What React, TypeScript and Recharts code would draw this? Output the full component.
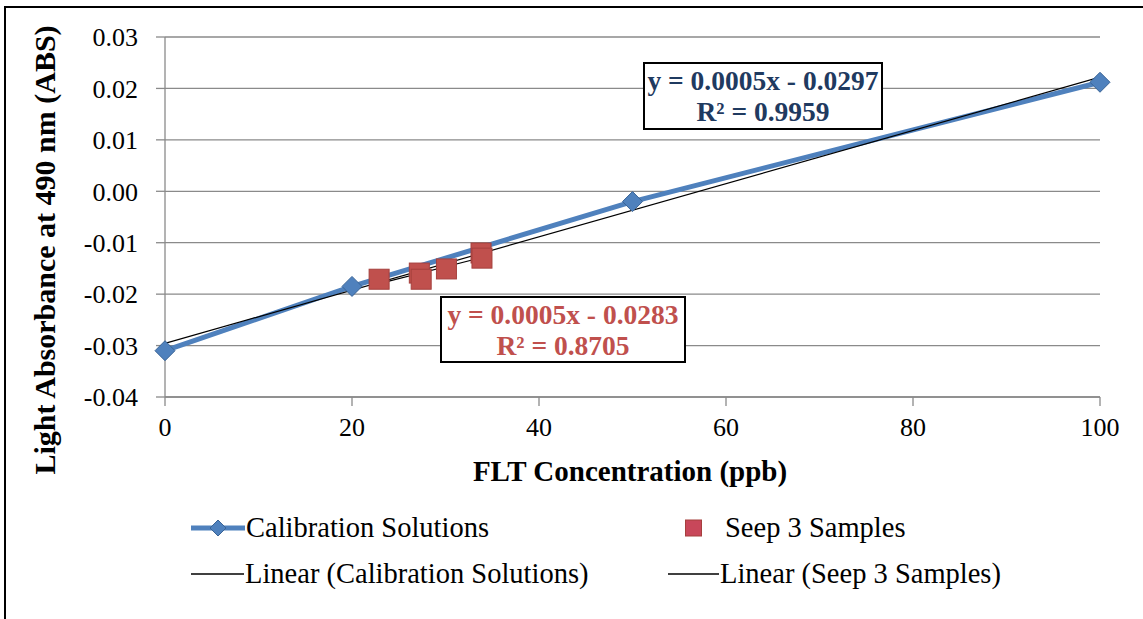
import { ComposedChart, Line, Scatter, XAxis, YAxis, CartesianGrid } from 'recharts';

// calibration standards (ppb vs ABS)
const calibX = [0, 20, 50, 100];
const calibY = [-0.031, -0.0185, -0.002, 0.0212];

// seep 3 samples
const seepX = [22.9, 27.2, 27.4, 30.1, 33.8, 33.9];
const seepY = [-0.0171, -0.0159, -0.0171, -0.0151, -0.012, -0.013];

const xTicks = [0, 20, 40, 60, 80, 100];
const yTicks = [-0.04, -0.03, -0.02, -0.01, 0, 0.01, 0.02, 0.03];

const calibEq = ['y = 0.0005x - 0.0297', 'R² = 0.9959'];
const seepEq = ['y = 0.0005x - 0.0283', 'R² = 0.8705'];

const BLUE = '#4F81BD';
const RED = '#C0504D';
const FONT = '"Liberation Serif", serif';

// least squares fit, same as excel's linear trendline
function linFit(xs: number[], ys: number[]) {
  const n = xs.length;
  const mx = xs.reduce((a, b) => a + b, 0) / n;
  const my = ys.reduce((a, b) => a + b, 0) / n;
  let sxy = 0, sxx = 0;
  xs.forEach((x, i) => {
    sxy += (x - mx) * (ys[i] - my);
    sxx += (x - mx) * (x - mx);
  });
  const m = sxy / sxx;
  const b = my - m * mx;
  const x0 = Math.min(...xs), x1 = Math.max(...xs);
  return [{ x: x0, y: m * x0 + b }, { x: x1, y: m * x1 + b }];
}

const calibData = calibX.map((x, i) => ({ x, y: calibY[i] }));
const seepData = seepX.map((x, i) => ({ x, y: seepY[i] }));
const calibTrend = linFit(calibX, calibY);
const seepTrend = linFit(seepX, seepY);

const Diamond = (props: any) => {
  const { cx, cy } = props;
  if (cx == null || cy == null) return null;
  const r = 10;
  return (
    <path
      d={`M${cx},${cy - r} L${cx + r},${cy} L${cx},${cy + r} L${cx - r},${cy} Z`}
      fill={BLUE}
      stroke="#3A6496"
      strokeWidth={1}
    />
  );
};

const Square = (props: any) => {
  const { cx, cy } = props;
  if (cx == null || cy == null) return null;
  const s = 10;
  return <rect x={cx - s} y={cy - s} width={s * 2} height={s * 2} fill={RED} stroke="#A5403D" strokeWidth={1} />;
};

const EqBox = ({ lines, color, left, top, width, height }: any) => (
  <div
    style={{
      position: 'absolute', left, top, width, height, boxSizing: 'border-box',
      border: '2px solid #000', background: '#fff', color, fontFamily: FONT,
      fontWeight: 'bold', fontSize: 27.5, lineHeight: '31px', textAlign: 'center',
      paddingTop: 1, whiteSpace: 'nowrap',
    }}
  >
    {lines.map((l: string) => <div key={l}>{l}</div>)}
  </div>
);

const legendRow = { position: 'absolute', fontSize: 28.5, whiteSpace: 'nowrap', display: 'flex', alignItems: 'center', height: 36 } as const;

export default function App() {
  return (
    <div style={{ position: 'absolute', left: 0, top: 0, width: 1143, height: 619, background: '#fff', overflow: 'hidden', fontFamily: FONT }}>
      <div style={{ position: 'absolute', left: 4, top: 6, width: 1200, height: 700, borderTop: '2px solid #000', borderLeft: '2px solid #000' }} />

      <div style={{ position: 'absolute', left: 0, top: 0 }}>
        <ComposedChart width={1143} height={619} margin={{ top: 37, right: 43, left: 65, bottom: 192 }}>
          <CartesianGrid vertical={false} stroke="#8a8a8a" strokeWidth={1.3} />
          <XAxis
            dataKey="x"
            type="number"
            domain={[0, 100]}
            ticks={xTicks}
            height={30}
            tickSize={9}
            tickMargin={12}
            stroke="#8a8a8a"
            strokeWidth={1.3}
            tick={{ fill: '#000', fontSize: 26, fontFamily: FONT }}
            allowDuplicatedCategory={false}
          />
          <YAxis
            type="number"
            domain={[-0.04, 0.03]}
            ticks={yTicks}
            width={100}
            tickSize={9}
            tickMargin={18}
            stroke="#8a8a8a"
            strokeWidth={1.3}
            tickFormatter={(v: number) => v.toFixed(2)}
            tick={{ fill: '#000', fontSize: 26, fontFamily: FONT }}
          />
          <Line
            data={calibData}
            dataKey="y"
            type="linear"
            stroke={BLUE}
            strokeWidth={5}
            dot={<Diamond />}
            activeDot={false}
            isAnimationActive={false}
          />
          <Scatter data={seepData} dataKey="y" shape={<Square />} isAnimationActive={false} />
          <Line data={calibTrend} dataKey="y" type="linear" stroke="#000" strokeWidth={1.2} dot={false} activeDot={false} isAnimationActive={false} />
          <Line data={seepTrend} dataKey="y" type="linear" stroke="#000" strokeWidth={1.2} dot={false} activeDot={false} isAnimationActive={false} />
        </ComposedChart>
      </div>

      {/* axis titles */}
      <div style={{ position: 'absolute', left: 45, top: 250, transform: 'translate(-50%, -50%) rotate(-90deg)', fontWeight: 'bold', fontSize: 30, whiteSpace: 'nowrap' }}>
        Light Absorbance at 490 nm (ABS)
      </div>
      <div style={{ position: 'absolute', left: 630, top: 471, transform: 'translate(-50%, -50%)', fontWeight: 'bold', fontSize: 29, whiteSpace: 'nowrap' }}>
        FLT Concentration (ppb)
      </div>

      <EqBox lines={calibEq} color="#1F3A60" left={643} top={62} width={240} height={68} />
      <EqBox lines={seepEq} color={RED} left={440} top={296} width={246} height={67} />

      {/* legend */}
      <div style={{ ...legendRow, left: 190, top: 510 }}>
        <svg width={56} height={24}>
          <line x1={1} y1={12} x2={55} y2={12} stroke={BLUE} strokeWidth={5} />
          <path d="M28,4 L36,12 L28,20 L20,12 Z" fill={BLUE} stroke="#3A6496" />
        </svg>
        <span>Calibration Solutions</span>
      </div>
      <div style={{ ...legendRow, left: 684, top: 510 }}>
        <svg width={41} height={24}>
          <rect x={1.5} y={4} width={16} height={16} fill="#C8475A" stroke="#A5403D" />
        </svg>
        <span>Seep 3 Samples</span>
      </div>
      <div style={{ ...legendRow, left: 190, top: 556 }}>
        <svg width={55} height={24}>
          <line x1={1} y1={12} x2={54} y2={12} stroke="#000" strokeWidth={1.5} />
        </svg>
        <span>Linear (Calibration Solutions)</span>
      </div>
      <div style={{ ...legendRow, left: 667, top: 556 }}>
        <svg width={53} height={24}>
          <line x1={1} y1={12} x2={52} y2={12} stroke="#000" strokeWidth={1.5} />
        </svg>
        <span>Linear (Seep 3 Samples)</span>
      </div>
    </div>
  );
}
